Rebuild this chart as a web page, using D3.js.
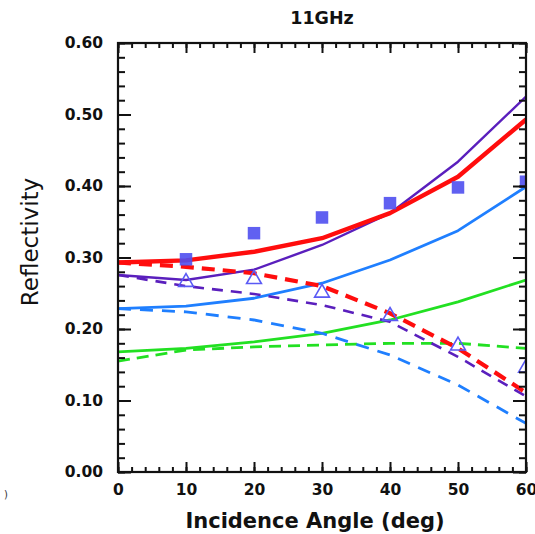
<!DOCTYPE html>
<html>
<head>
<meta charset="utf-8">
<script src="https://cdn.jsdelivr.net/npm/d3@7"></script>
<style>
  html, body { margin: 0; padding: 0; background: #fff; }
  svg { display: block; }
</style>
</head>
<body>
<svg id="chart" width="535" height="534"></svg>
<script>
// Incidence angles (deg)
const angles = [0, 10, 20, 30, 40, 50, 60];
const obsAngles = [10, 20, 30, 40, 50, 60];

// Modelled reflectivity curves
const redSolid     = [0.293, 0.296, 0.308, 0.327, 0.362, 0.413, 0.493];
const redDashed    = [0.293, 0.287, 0.278, 0.260, 0.222, 0.173, 0.111];
const purpleSolid  = [0.2755, 0.2685, 0.283, 0.3175, 0.362, 0.434, 0.525];
const purpleDashed = [0.2755, 0.260, 0.249, 0.2335, 0.210, 0.161, 0.106];
const blueSolid    = [0.2285, 0.232, 0.243, 0.264, 0.2965, 0.3375, 0.399];
const blueDashed   = [0.2285, 0.224, 0.2126, 0.194, 0.1636, 0.1217, 0.068];
const greenSolid   = [0.168, 0.173, 0.182, 0.194, 0.2126, 0.238, 0.2685];
const greenDashed  = [0.155, 0.1706, 0.175, 0.1776, 0.180, 0.180, 0.173];

// Measured reflectivity
const squareObs   = [0.2975, 0.334, 0.356, 0.376, 0.398, 0.406];
const triangleObs = [0.267, 0.271, 0.252, 0.2195, 0.178, 0.147];

// Axis ticks
const xMajor = [0, 10, 20, 30, 40, 50, 60];
const xMinor = d3.range(0, 61, 2);
const yMajor = [0.0, 0.1, 0.2, 0.3, 0.4, 0.5, 0.6];
const yMinor = d3.range(0, 0.601, 0.02);

const titleText = "11GHz";
const xTitle = "Incidence Angle (deg)";
const yTitle = "Reflectivity";

const plotLeft = 118, plotRight = 526, plotTop = 43, plotBottom = 472;
const svg = d3.select("#chart");

const x = d3.scaleLinear().domain([0, 60]).range([plotLeft, plotRight]);
const y = d3.scaleLinear().domain([0, 0.6]).range([plotBottom, plotTop]);

svg.append("defs").append("clipPath").attr("id", "plotClip")
  .append("rect").attr("x", plotLeft).attr("y", plotTop)
  .attr("width", plotRight - plotLeft).attr("height", plotBottom - plotTop);

const plot = svg.append("g").attr("clip-path", "url(#plotClip)");

const line = d3.line().x((d, i) => x(angles[i])).y(d => y(d));

const series = [
  { v: greenDashed,  color: "#22e022", w: 2.8, dash: "12,7" },
  { v: greenSolid,   color: "#22e022", w: 2.8, dash: null },
  { v: blueDashed,   color: "#1f7fff", w: 2.8, dash: "13,9" },
  { v: blueSolid,    color: "#1f7fff", w: 2.8, dash: null },
  { v: purpleDashed, color: "#5a1fbd", w: 2.6, dash: "11,8" },
  { v: purpleSolid,  color: "#5a1fbd", w: 2.4, dash: null },
  { v: redDashed,    color: "#ff0d0d", w: 4.2, dash: "13,8" },
  { v: redSolid,     color: "#ff0d0d", w: 4.4, dash: null }
];

plot.selectAll("path.curve").data(series).join("path")
  .attr("class", "curve")
  .attr("d", d => line(d.v))
  .attr("fill", "none")
  .attr("stroke", d => d.color)
  .attr("stroke-width", d => d.w)
  .attr("stroke-dasharray", d => d.dash)
  .attr("stroke-linejoin", "round");

// Filled squares
const sq = 12.5;
plot.selectAll("rect.obs").data(squareObs).join("rect")
  .attr("class", "obs")
  .attr("x", (d, i) => x(obsAngles[i]) - sq / 2)
  .attr("y", d => y(d) - sq / 2)
  .attr("width", sq).attr("height", sq)
  .attr("fill", "#4f4ff0").attr("fill-opacity", 0.9);

// Open triangles
const tri = d3.symbol().type(d3.symbolTriangle).size(95);
plot.selectAll("path.tri").data(triangleObs).join("path")
  .attr("class", "tri")
  .attr("transform", (d, i) => `translate(${x(obsAngles[i])},${y(d) + 1})`)
  .attr("d", tri)
  .attr("fill", "none")
  .attr("stroke", "#5a5af5")
  .attr("stroke-width", 1.6);

// Axes with inward ticks on all four sides
function styleAxis(g) {
  g.selectAll("line").attr("stroke", "#111").attr("stroke-width", 2);
  g.select(".domain").remove();
  g.selectAll("text")
    .attr("font-family", "DejaVu Sans, sans-serif")
    .attr("font-weight", "bold")
    .attr("font-size", 15.5)
    .attr("fill", "#111");
}

const fmtY = d3.format(".2f");

svg.append("g").attr("transform", `translate(${plotLeft},0)`)
  .call(d3.axisLeft(y).tickValues(yMinor).tickSize(-7).tickFormat(""))
  .call(styleAxis);
svg.append("g").attr("transform", `translate(${plotLeft},0)`)
  .call(d3.axisLeft(y).tickValues(yMajor).tickSizeInner(-13).tickSizeOuter(0).tickPadding(15).tickFormat(fmtY))
  .call(styleAxis);

svg.append("g").attr("transform", `translate(${plotRight},0)`)
  .call(d3.axisRight(y).tickValues(yMinor).tickSize(-7).tickFormat(""))
  .call(styleAxis);
svg.append("g").attr("transform", `translate(${plotRight},0)`)
  .call(d3.axisRight(y).tickValues(yMajor).tickSize(-13).tickFormat(""))
  .call(styleAxis);

svg.append("g").attr("transform", `translate(0,${plotBottom})`)
  .call(d3.axisBottom(x).tickValues(xMinor).tickSize(-5).tickFormat(""))
  .call(styleAxis);
svg.append("g").attr("transform", `translate(0,${plotBottom})`)
  .call(d3.axisBottom(x).tickValues(xMajor).tickSizeInner(-10).tickSizeOuter(0).tickPadding(12).tickFormat(d3.format("d")))
  .call(styleAxis);

svg.append("g").attr("transform", `translate(0,${plotTop})`)
  .call(d3.axisTop(x).tickValues(xMinor).tickSize(-5).tickFormat(""))
  .call(styleAxis);
svg.append("g").attr("transform", `translate(0,${plotTop})`)
  .call(d3.axisTop(x).tickValues(xMajor).tickSize(-10).tickFormat(""))
  .call(styleAxis);

// Frame
svg.append("rect")
  .attr("x", plotLeft).attr("y", plotTop)
  .attr("width", plotRight - plotLeft).attr("height", plotBottom - plotTop)
  .attr("fill", "none").attr("stroke", "#111").attr("stroke-width", 2.2);

// Titles
svg.append("text")
  .attr("x", (plotLeft + plotRight) / 2).attr("y", 24)
  .attr("text-anchor", "middle")
  .attr("font-family", "DejaVu Sans, sans-serif")
  .attr("font-weight", "bold").attr("font-size", 17.5)
  .attr("fill", "#111")
  .text(titleText);

svg.append("text")
  .attr("x", (plotLeft + plotRight) / 2 - 7).attr("y", 528)
  .attr("text-anchor", "middle")
  .attr("font-family", "DejaVu Sans, sans-serif")
  .attr("font-weight", "bold").attr("font-size", 21)
  .attr("fill", "#111")
  .text(xTitle);

svg.append("text")
  .attr("transform", "translate(38,242) rotate(-90)")
  .attr("text-anchor", "middle")
  .attr("font-family", "DejaVu Sans, sans-serif")
  .attr("font-size", 23)
  .attr("fill", "#111")
  .text(yTitle);

svg.append("text")
  .attr("x", 4).attr("y", 498)
  .attr("font-family", "DejaVu Sans, sans-serif")
  .attr("font-size", 10)
  .attr("fill", "#333")
  .text(")");
</script>
</body>
</html>
